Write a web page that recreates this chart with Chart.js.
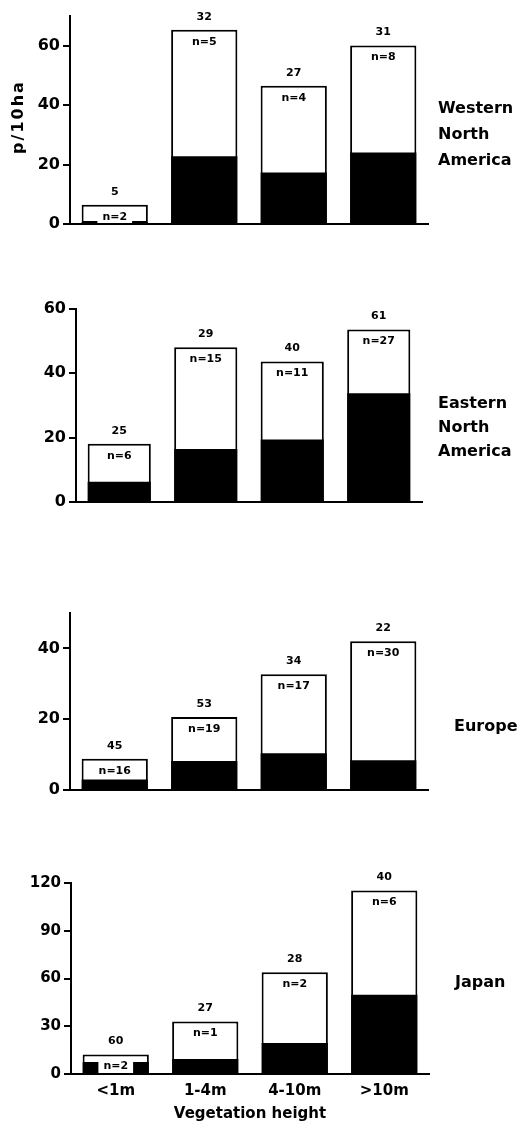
<!DOCTYPE html>
<html><head><meta charset="utf-8">
<script src="https://cdn.jsdelivr.net/npm/chart.js@4.4.1/dist/chart.umd.min.js"></script>
<style>
html,body{margin:0;padding:0;background:#fff;width:523px;height:1123px;overflow:hidden;position:relative}
canvas{position:absolute;left:0}
</style></head><body>
<canvas id="c1" width="523" height="262" style="top:0px"></canvas>
<canvas id="c2" width="523" height="300" style="top:262px"></canvas>
<canvas id="c3" width="523" height="290" style="top:562px"></canvas>
<canvas id="c4" width="523" height="271" style="top:852px"></canvas>
<script>
// ---- data ----
const categories = ['<1m', '1-4m', '4-10m', '>10m'];
const xTitle = 'Vegetation height';
const yTitle = 'p/10ha';

const westTotal = [6.5, 65.4, 46.5, 60.1];
const westBlack = [0.7, 22.8, 17.3, 24.1];
const westCount = [5, 32, 27, 31];
const westN     = [2, 5, 4, 8];
const westTicks = [0, 20, 40, 60];

const eastTotal = [18.1, 48.1, 43.7, 53.6];
const eastBlack = [6.3, 16.5, 19.4, 33.8];
const eastCount = [25, 29, 40, 61];
const eastN     = [6, 15, 11, 27];
const eastTicks = [0, 20, 40, 60];

const euroTotal = [8.8, 20.6, 32.7, 42.0];
const euroBlack = [3.0, 8.2, 10.4, 8.4];
const euroCount = [45, 53, 34, 22];
const euroN     = [16, 19, 17, 30];
const euroTicks = [0, 20, 40];

const japanTotal = [12.2, 33.0, 63.9, 115.3];
const japanBlack = [7.6, 9.5, 19.5, 49.8];
const japanCount = [60, 27, 28, 40];
const japanN     = [2, 1, 2, 6];
const japanTicks = [0, 30, 60, 90, 120];

// ---- layout / style ----
const FONT = '"DejaVu Sans", sans-serif';
Chart.defaults.font.family = FONT;
Chart.defaults.color = '#000';

const panels = [
  {id:'c1', bandTop:0, bandH:262, area:{left:70, right:428, top:16, bottom:224}, max:70, ticks:westTicks,
   total:westTotal, black:westBlack, count:westCount, n:westN, barPct:0.74, tickSize:16,
   name:['Western','North','America'], nameX:438, nameY:[109,135,161], showX:false, showYTitle:true},
  {id:'c2', bandTop:262, bandH:300, area:{left:76, right:422, top:309, bottom:502}, max:60, ticks:eastTicks,
   total:eastTotal, black:eastBlack, count:eastCount, n:eastN, barPct:0.73, tickSize:16,
   name:['Eastern','North','America'], nameX:438, nameY:[404,428,452], showX:false},
  {id:'c3', bandTop:562, bandH:290, area:{left:70, right:428, top:613, bottom:790}, max:50, ticks:euroTicks,
   total:euroTotal, black:euroBlack, count:euroCount, n:euroN, barPct:0.74, tickSize:16,
   name:['Europe'], nameX:454, nameY:[727], showX:false},
  {id:'c4', bandTop:852, bandH:271, area:{left:71, right:429, top:883, bottom:1074}, max:120, ticks:japanTicks,
   total:japanTotal, black:japanBlack, count:japanCount, n:japanN, barPct:0.74, tickSize:15,
   name:['Japan'], nameX:455, nameY:[983], showX:true}
];

const labelPlugin = {
  id: 'barLabels',
  afterDatasetsDraw(chart) {
    const p = chart.options.plugins.barLabels;
    const ctx = chart.ctx;
    const meta = chart.getDatasetMeta(1);
    ctx.save();
    ctx.textAlign = 'center';
    ctx.textBaseline = 'middle';
    ctx.font = 'bold 11px ' + FONT;
    meta.data.forEach((bar, i) => {
      ctx.fillStyle = '#000';
      ctx.fillText(String(p.count[i]), bar.x, bar.y - 13);
      const t = 'n=' + p.n[i];
      const w = ctx.measureText(t).width + 10;
      ctx.fillStyle = '#fff';
      ctx.fillRect(bar.x - w / 2, bar.y + 12 - 7, w, 14);
      ctx.fillStyle = '#000';
      ctx.fillText(t, bar.x, bar.y + 12);
    });
    ctx.restore();
  },
  afterDraw(chart) {
    const p = chart.options.plugins.barLabels;
    const ctx = chart.ctx;
    ctx.save();
    ctx.fillStyle = '#000';
    ctx.font = 'bold 16px ' + FONT;
    ctx.textAlign = 'left';
    ctx.textBaseline = 'middle';
    p.name.forEach((line, i) => ctx.fillText(line, p.nameX, p.nameY[i] - p.bandTop));
    if (p.showYTitle) {
      ctx.translate(19, 117 - p.bandTop);
      ctx.rotate(-Math.PI / 2);
      ctx.textAlign = 'center';
      try { ctx.letterSpacing = '2px'; } catch (e) {}
      ctx.fillText(yTitle, 0, 0);
    }
    ctx.restore();
  }
};

panels.forEach(pn => {
  const a = pn.area;
  new Chart(document.getElementById(pn.id), {
    type: 'bar',
    data: {
      labels: categories,
      datasets: [
        {data: pn.black, backgroundColor: '#000', borderWidth: 0,
         barPercentage: pn.barPct, categoryPercentage: 1.0},
        {data: pn.total, backgroundColor: '#fff', borderColor: '#000', borderWidth: 2, borderSkipped: false,
         barPercentage: pn.barPct, categoryPercentage: 1.0}
      ]
    },
    options: {
      responsive: false,
      animation: false,
      events: [],
      layout: {padding: {left: 0, right: 523 - a.right, top: a.top - pn.bandTop, bottom: 0}},
      plugins: {
        legend: {display: false},
        tooltip: {enabled: false},
        barLabels: Object.assign({}, pn)
      },
      scales: {
        x: {
          stacked: true,
          afterFit: sc => { sc.height = pn.bandTop + pn.bandH - a.bottom; },
          grid: {display: false},
          border: {display: true, color: '#000', width: 2, z: 1},
          ticks: {display: pn.showX, padding: 0, color: '#000', font: {size: 15, weight: 'bold'}},
          title: {display: pn.showX, text: xTitle, color: '#000', padding: {top: 0, bottom: 0},
                  font: {size: 15, weight: 'bold'}}
        },
        y: {
          stacked: false,
          min: 0, max: pn.max,
          afterBuildTicks: ax => { ax.ticks = pn.ticks.map(v => ({value: v})); },
          afterFit: sc => { sc.width = a.left; },
          grid: {drawOnChartArea: false, drawTicks: true, tickLength: 7, lineWidth: 2, color: '#000'},
          border: {display: true, color: '#000', width: 2},
          ticks: {padding: 3, color: '#000', font: {size: pn.tickSize, weight: 'bold'}}
        }
      }
    },
    plugins: [labelPlugin]
  });
});
</script>
</body></html>
